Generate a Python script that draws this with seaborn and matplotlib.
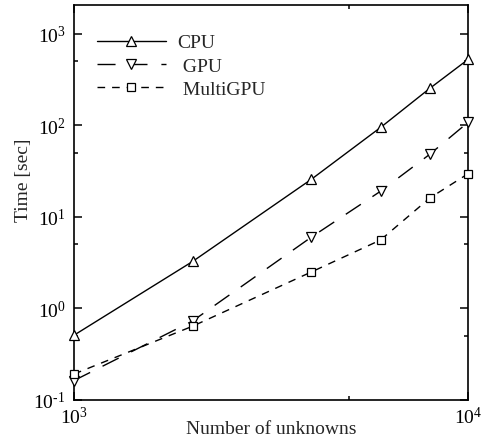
import matplotlib
matplotlib.use("Agg")
import matplotlib.pyplot as plt
import matplotlib.ticker as mticker
import numpy as np
import pandas as pd
import seaborn as sns

# values
unknowns = [1000, 2000, 4000, 6000, 8000, 10000]
cpu_time = [0.51, 3.26, 25.7, 95, 254, 525]
gpu_time = [0.163, 0.73, 6.0, 19.1, 48.4, 108]
multigpu_time = [0.192, 0.64, 2.5, 5.6, 16.1, 29.6]
series_names = ["CPU", "GPU", "MultiGPU"]
legend_labels = ["CPU", " GPU", " MultiGPU"]

sns.set_style("ticks")
plt.rcParams["font.family"] = ["Liberation Serif", "DejaVu Serif"]
plt.rcParams["mathtext.fontset"] = "custom"
plt.rcParams["mathtext.rm"] = "Liberation Serif"
plt.rcParams["axes.unicode_minus"] = False
plt.rcParams["lines.scale_dashes"] = False


def pow10_label(v, pos):
    # plain hyphen in the exponent, like the original figure
    e = int(round(np.log10(v)))
    return r"$\mathdefault{10^{\text{%d}}}$" % e


df = pd.concat(
    [
        pd.DataFrame({"n": unknowns, "time": t, "device": name})
        for name, t in zip(series_names, [cpu_time, gpu_time, multigpu_time])
    ],
    ignore_index=True,
)

fig = plt.figure(figsize=(4.82, 4.39), dpi=100)
ax = fig.add_axes([0.1535, 0.0866, 0.8175, 0.8990])

sns.lineplot(
    data=df,
    x="n",
    y="time",
    hue="device",
    style="device",
    palette=["black"] * 3,
    markers={"CPU": "^", "GPU": "v", "MultiGPU": "s"},
    dashes={"CPU": "", "GPU": (13, 10), "MultiGPU": (5.5, 5.0)},
    linewidth=1.0,
    markeredgecolor="black",
    markerfacecolor="white",
    markeredgewidth=0.9,
    clip_on=False,
    legend=False,
    ax=ax,
)

for line, ms in zip(ax.lines, [6.5, 6.5, 5.5]):
    line.set_markersize(ms)
    line.set_zorder(3)

ax.set_xscale("log")
ax.set_yscale("log")
ax.set_xlim(1e3, 1e4)
ax.set_ylim(1e-1, 2.05e3)

for axis in [ax.xaxis, ax.yaxis]:
    axis.set_major_locator(mticker.LogLocator(base=10, numticks=10))
    axis.set_minor_locator(mticker.LogLocator(base=10, subs=[5], numticks=10))
    axis.set_major_formatter(mticker.FuncFormatter(pow10_label))
    axis.set_minor_formatter(mticker.NullFormatter())

ax.tick_params(which="both", direction="in", top=True, right=True,
               width=1.1, color="black", labelsize=14, labelcolor="black")
ax.tick_params(which="major", length=6)
ax.tick_params(which="minor", length=3)
ax.tick_params(axis="x", which="major", pad=4)
ax.tick_params(axis="y", which="major", pad=6)

for spine in ax.spines.values():
    spine.set_linewidth(1.2)
    spine.set_color("black")

ax.set_xlabel("Number of unknowns", fontsize=14, labelpad=-5)
ax.set_ylabel("Time [sec]", fontsize=14)
ax.yaxis.set_label_coords(-0.107, 0.56)

ax.legend(
    ax.lines,
    legend_labels,
    loc="upper left",
    bbox_to_anchor=(0.058, 0.928),
    frameon=False,
    fontsize=14,
    handlelength=3.55,
    handletextpad=0.6,
    labelspacing=0.3,
    borderpad=0,
    borderaxespad=0,
)

fig.savefig("out.png", dpi=100)
